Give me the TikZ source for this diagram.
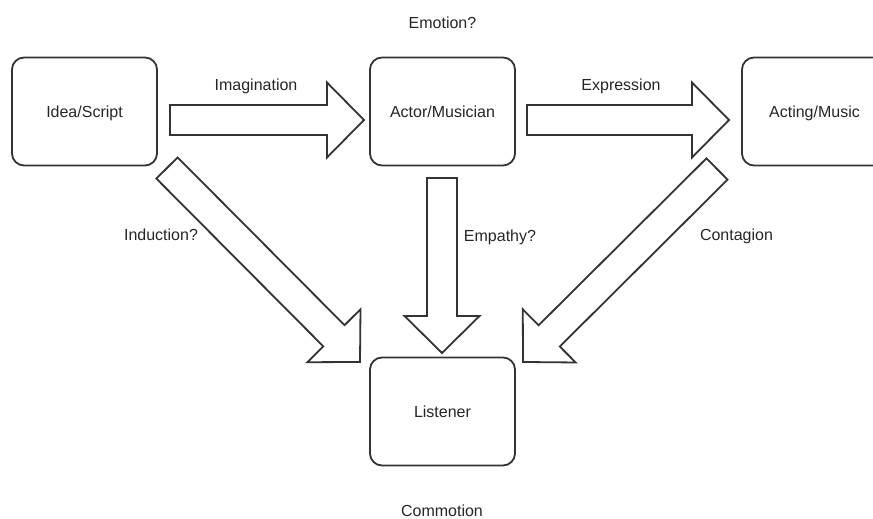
\documentclass[tikz,border=0pt]{standalone}
\usepackage{fontspec}
\setmainfont{Liberation Sans}
\usetikzlibrary{calc}
\definecolor{ln}{HTML}{333333}
\tikzset{
  box/.style={draw=ln, line width=1.8pt, rounded corners=12pt, fill=white, minimum width=145pt, minimum height=108pt, inner sep=0pt, text depth=0pt, font=\fontsize{16}{19}\selectfont, text=black!85},
  lbl/.style={font=\fontsize{16}{19}\selectfont, inner sep=0pt, text depth=0pt, text=black!85},
  barrow/.style={draw=ln, line width=1.8pt, fill=white, line join=miter}
}
\newcommand\blockarrow[2]{%
  \draw[barrow] let \p1=($(#2)-(#1)$), \n1={atan2(\y1,\x1)}, \n2={veclen(\x1,\y1)} in
   [shift={(#1)}, rotate=\n1] (0,-15) -- ({\n2-37},-15) -- ({\n2-37},-37.5) -- (\n2,0) -- ({\n2-37},37.5) -- ({\n2-37},15) -- (0,15) -- cycle;}
\begin{document}
\begin{tikzpicture}[x=1pt,y=1pt]
\clip (0,0) rectangle (873,519);
\fill[white] (0,0) rectangle (873,519);
\node[box] (idea) at (84.5,407.5) {Idea/Script};
\node[box] (actor) at (442.5,407.5) {Actor/Musician};
\node[box] (acting) at (814.5,407.5) {Acting/Music};
\node[box] (listener) at (442.5,107.5) {Listener};
\coordinate (imgT) at (170,399);
\coordinate (imgH) at (364,399);
\coordinate (expT) at (527,399);
\coordinate (expH) at (729,399);
\coordinate (empT) at (442,341);
\coordinate (empH) at (442,166);
\coordinate (indT) at (167,351);
\coordinate (indH) at (360,157);
\coordinate (conT) at (717,350);
\coordinate (conH) at (523,157);
\blockarrow{imgT}{imgH}
\blockarrow{expT}{expH}
\blockarrow{empT}{empH}
\blockarrow{indT}{indH}
\blockarrow{conT}{conH}
\node[lbl] (emotion) at (442.5,496) {Emotion?};
\node[lbl] (imagination) at (256,434) {Imagination};
\node[lbl] (expression) at (621,434) {Expression};
\node[lbl] (induction) at (161,284) {Induction?};
\node[lbl] (empathy) at (500,283) {Empathy?};
\node[lbl] (contagion) at (736.5,284) {Contagion};
\node[lbl] (commotion) at (442,8) {Commotion};
\end{tikzpicture}
\end{document}
